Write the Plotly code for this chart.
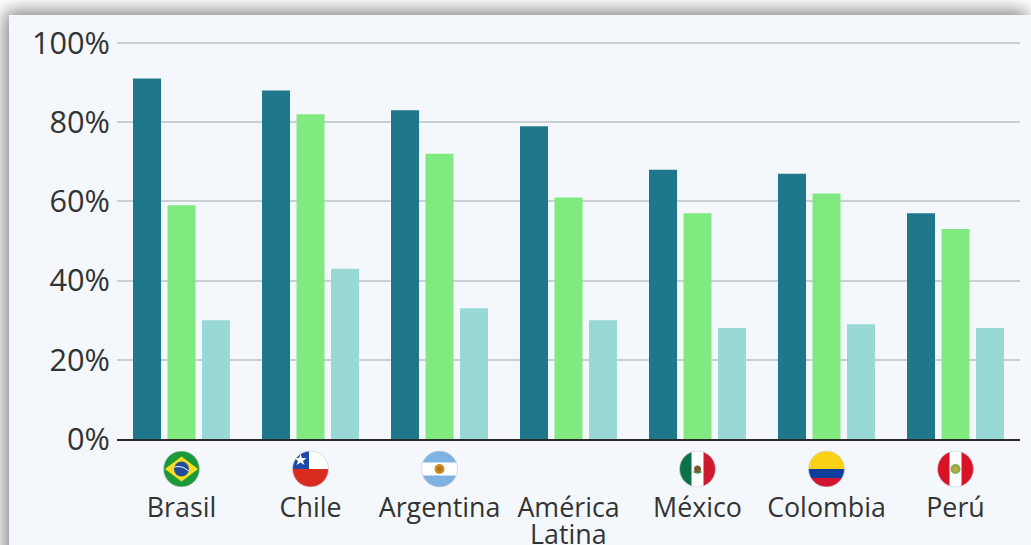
import base64
import plotly.graph_objects as go

categories = ["Brasil", "Chile", "Argentina", "América", "México", "Colombia", "Perú"]
second_line = {"América": "Latina"}
series_a = [91, 88, 83, 79, 68, 67, 57]
series_b = [59, 82, 72, 61, 57, 62, 53]
series_c = [30, 43, 33, 30, 28, 29, 28]
y_ticks = [0, 20, 40, 60, 80, 100]
y_labels = ["0%", "20%", "40%", "60%", "80%", "100%"]

COL_A, COL_B, COL_C = "#1f778c", "#80ea80", "#98d9d6"
CARD = "#f4f8fc"
TEXT = "#333333"
PLOT_H = 398


def uri(svg):
    return "data:image/svg+xml;base64," + base64.b64encode(svg.encode()).decode()


def flag(body):
    return uri(
        '<svg xmlns="http://www.w3.org/2000/svg" width="74" height="74" viewBox="0 0 74 74">'
        '<defs><clipPath id="c"><circle cx="37" cy="37" r="36"/></clipPath></defs>'
        f'<g clip-path="url(#c)"><rect width="74" height="74" fill="#fff"/>{body}</g>'
        '<circle cx="37" cy="37" r="36" fill="none" stroke="#cfd3d6" stroke-width="1.5"/></svg>'
    )


flags = {
    "Brasil": flag('<rect width="74" height="74" fill="#1c9a3a"/><polygon points="37,12 70,37 37,62 4,37" fill="#fbdc1e"/>'
                   '<circle cx="37" cy="37" r="15" fill="#1f4f9c"/><path d="M23 33q15-4 28 8" stroke="#fff" stroke-width="2" fill="none"/>'),
    "Chile": flag('<rect y="37" width="74" height="37" fill="#d92b20"/><rect width="34" height="37" fill="#1d4aa8"/>'
                  '<polygon points="17,7 20,15 29,15 22,21 25,29 17,24 9,29 12,21 5,15 14,15" fill="#fff"/>'),
    "Argentina": flag('<rect width="74" height="24" fill="#7fb2e2"/><rect y="50" width="74" height="24" fill="#7fb2e2"/>'
                      '<circle cx="37" cy="37" r="10" fill="#d08a1e"/><circle cx="37" cy="37" r="5" fill="#b8701c"/>'),
    "México": flag('<rect width="25" height="74" fill="#0b7148"/><rect x="49" width="25" height="74" fill="#ce1a2e"/>'
                   '<circle cx="37" cy="37" r="7" fill="#7a5a2c"/><path d="M29 42q8 6 16 0" stroke="#3f8a4a" stroke-width="3" fill="none"/>'),
    "Colombia": flag('<rect width="74" height="37" fill="#fdd216"/><rect y="37" width="74" height="18" fill="#0f3d9c"/>'
                     '<rect y="55" width="74" height="19" fill="#d2152e"/>'),
    "Perú": flag('<rect width="25" height="74" fill="#da1225"/><rect x="49" width="25" height="74" fill="#da1225"/>'
                 '<circle cx="37" cy="37" r="10" fill="#7fb04a"/><circle cx="37" cy="37" r="5" fill="#d2a63a"/>'),
}

background = uri(
    '<svg xmlns="http://www.w3.org/2000/svg" width="1031" height="545" viewBox="0 0 1031 545">'
    '<defs><filter id="b" x="-5%" y="-10%" width="110%" height="120%"><feGaussianBlur stdDeviation="9"/></filter></defs>'
    '<rect width="1031" height="545" fill="#fff"/>'
    '<rect x="5" y="11" width="1022" height="560" fill="#000" opacity="0.5" filter="url(#b)"/>'
    f'<rect x="9" y="15" width="1022" height="530" fill="{CARD}"/></svg>'
)

fig = go.Figure()
for vals, col in [(series_a, COL_A), (series_b, COL_B), (series_c, COL_C)]:
    fig.add_bar(x=list(range(len(categories))), y=vals, marker=dict(color=col, line_width=0), showlegend=False)

images = [dict(source=background, xref="paper", yref="paper", x=-117 / 903, y=(PLOT_H + 41) / PLOT_H,
               sizex=1031 / 903, sizey=545 / PLOT_H, xanchor="left", yanchor="top",
               sizing="stretch", layer="below")]
annotations = []
for i, name in enumerate(categories):
    if name in flags:
        images.append(dict(source=flags[name], xref="x", yref="paper", x=i, y=-30 / PLOT_H,
                           sizex=37 / 129, sizey=37 / PLOT_H, xanchor="center", yanchor="middle",
                           sizing="contain", layer="above"))
    if name in second_line:
        annotations.append(dict(text=second_line[name], xref="x", yref="paper", x=i, y=-94 / PLOT_H,
                                showarrow=False, xanchor="center", yanchor="middle",
                                font=dict(size=26.8, color=TEXT)))

fig.update_layout(
    width=1031, height=545, margin=dict(l=117, r=11, t=41, b=106, pad=0),
    barmode="group", bargap=0.198, bargroupgap=0.188,
    paper_bgcolor=CARD, plot_bgcolor="rgba(0,0,0,0)",
    font=dict(family="Open Sans", color=TEXT),
    images=images, annotations=annotations,
)
fig.update_xaxes(
    tickmode="array", tickvals=list(range(len(categories))), ticktext=categories, automargin=False,
    range=[-0.5, 6.5], showgrid=False, zeroline=False, showline=True, linecolor="#2b2b2b", linewidth=2,
    ticks="outside", ticklen=44, tickcolor="rgba(0,0,0,0)", tickangle=0, tickfont=dict(size=26.8, color=TEXT),
)
fig.update_yaxes(
    tickmode="array", tickvals=y_ticks, ticktext=y_labels, range=[0, 100.5], automargin=False,
    showgrid=True, gridcolor="#c8d0d4", gridwidth=1.5, zeroline=False, showline=False,
    ticks="", ticklabelstandoff=6, tickfont=dict(size=30.7, color=TEXT),
)
fig.write_html("out.html", config=dict(displayModeBar=False),
               post_script="document.body.style.margin='0';")
